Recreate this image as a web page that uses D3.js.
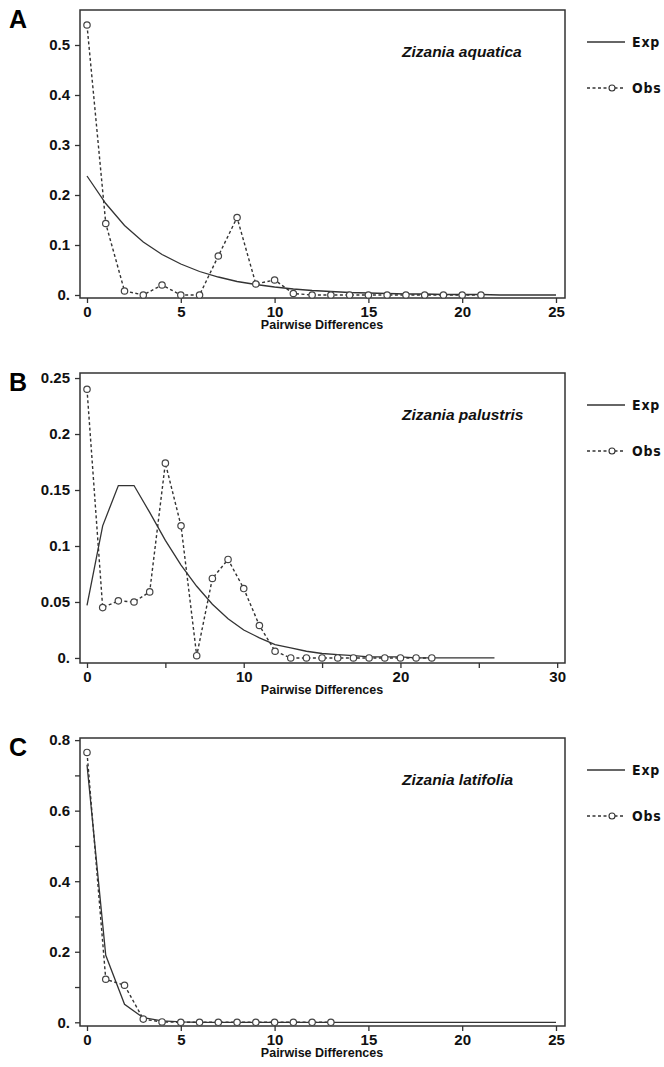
<!DOCTYPE html>
<html>
<head>
<meta charset="utf-8">
<script src="https://cdn.jsdelivr.net/npm/d3@7"></script>
<style>
  body { margin: 0; background: #fff; }
  svg { display: block; font-family: Arial, "Liberation Sans", sans-serif; }
</style>
</head>
<body>
<svg id="chart" width="664" height="1067"></svg>
<script>
// pairwise differences (x) for each panel
var xObsA = d3.range(0, 22);
var obsA = [0.54, 0.143, 0.008, 0.0, 0.02, 0.0, 0.0, 0.078, 0.155, 0.022, 0.03, 0.003,
            0, 0, 0, 0, 0, 0, 0, 0, 0, 0];
var xExpA = d3.range(0, 26);
var expA = [0.238, 0.183, 0.139, 0.106, 0.081, 0.062, 0.047, 0.036, 0.027, 0.021, 0.016,
            0.012, 0.009, 0.007, 0.005, 0.004, 0.003, 0.002, 0.002, 0.001, 0.001,
            0.001, 0.0, 0.0, 0.0, 0.0];

var xObsB = d3.range(0, 23);
var obsB = [0.24, 0.045, 0.051, 0.05, 0.059, 0.174, 0.118, 0.002, 0.071, 0.088, 0.062,
            0.029, 0.006, 0, 0, 0, 0, 0, 0, 0, 0, 0, 0];
var xExpB = d3.range(0, 27);
var expB = [0.047, 0.118, 0.154, 0.154, 0.13, 0.105, 0.083, 0.064, 0.048, 0.035, 0.025,
            0.018, 0.012, 0.009, 0.006, 0.004, 0.003, 0.002, 0.001, 0.001, 0.001,
            0.0, 0.0, 0.0, 0.0, 0.0, 0.0];

var xObsC = d3.range(0, 14);
var obsC = [0.765, 0.122, 0.105, 0.009, 0.001, 0, 0, 0, 0, 0, 0, 0, 0, 0];
var xExpC = d3.range(0, 26);
var expC = [0.73, 0.19, 0.051, 0.013, 0.004, 0.001, 0, 0, 0, 0, 0, 0, 0, 0, 0, 0, 0, 0,
            0, 0, 0, 0, 0, 0, 0, 0];

// tick values and labels
var xTicksA = [0, 5, 10, 15, 20, 25];
var xLabelsA = ["0", "5", "10", "15", "20", "25"];
var yTicksA = [0, 0.1, 0.2, 0.3, 0.4, 0.5];
var yLabelsA = ["0.", "0.1", "0.2", "0.3", "0.4", "0.5"];

var xTicksB = [0, 5, 10, 15, 20, 25, 30];
var xLabelsB = ["0", "", "10", "", "20", "", "30"];
var yTicksB = [0, 0.05, 0.1, 0.15, 0.2, 0.25];
var yLabelsB = ["0.", "0.05", "0.1", "0.15", "0.2", "0.25"];

var xTicksC = [0, 5, 10, 15, 20, 25];
var xLabelsC = ["0", "5", "10", "15", "20", "25"];
var yTicksC = [0, 0.1, 0.2, 0.3, 0.4, 0.5, 0.6, 0.7, 0.8];
var yLabelsC = ["0.", "", "0.2", "", "0.4", "", "0.6", "", "0.8"];

var species = ["Zizania aquatica", "Zizania palustris", "Zizania latifolia"];
var panelLetters = ["A", "B", "C"];
var seriesNames = ["Exp", "Obs"];
var xTitle = "Pairwise Differences";

var panels = [
  { letter: panelLetters[0], name: species[0], top: 10, bottom: 298,
    xDom: [-0.373, 25.48], yDom: [-0.006, 0.57],
    xObs: xObsA, obs: obsA, xExp: xExpA, exp: expA,
    xTicks: xTicksA, xLabels: xLabelsA, yTicks: yTicksA, yLabels: yLabelsA },
  { letter: panelLetters[1], name: species[1], top: 373, bottom: 663,
    xDom: [-0.447, 30.5], yDom: [-0.0045, 0.2545],
    xObs: xObsB, obs: obsB, xExp: xExpB, exp: expB,
    xTicks: xTicksB, xLabels: xLabelsB, yTicks: yTicksB, yLabels: yLabelsB },
  { letter: panelLetters[2], name: species[2], top: 738, bottom: 1026,
    xDom: [-0.373, 25.48], yDom: [-0.0105, 0.806],
    xObs: xObsC, obs: obsC, xExp: xExpC, exp: expC,
    xTicks: xTicksC, xLabels: xLabelsC, yTicks: yTicksC, yLabels: yLabelsC }
];

var svg = d3.select("#chart");
var left = 80, right = 565;
var ink = "#333";

panels.forEach(function (p) {
  var x = d3.scaleLinear().domain(p.xDom).range([left, right]);
  var y = d3.scaleLinear().domain(p.yDom).range([p.bottom, p.top]);
  var g = svg.append("g");

  // frame
  g.append("rect")
    .attr("x", left).attr("y", p.top)
    .attr("width", right - left).attr("height", p.bottom - p.top)
    .attr("fill", "none").attr("stroke", ink).attr("stroke-width", 1.5);

  // x axis
  var xAxis = g.append("g")
    .attr("transform", "translate(0," + p.bottom + ")")
    .call(d3.axisBottom(x).tickValues(p.xTicks).tickSize(5).tickPadding(3)
      .tickFormat(function (d, i) { return p.xLabels[i]; }));
  // y axis
  var yAxis = g.append("g")
    .attr("transform", "translate(" + left + ",0)")
    .call(d3.axisLeft(y).tickValues(p.yTicks).tickSize(5).tickPadding(5)
      .tickFormat(function (d, i) { return p.yLabels[i]; }));

  [xAxis, yAxis].forEach(function (a) {
    a.select(".domain").remove();
    a.selectAll("line").attr("stroke", ink).attr("stroke-width", 1.3);
    a.selectAll("text").attr("fill", "#111").attr("font-size", 15)
      .attr("font-weight", "bold");
  });

  // expected
  var line = d3.line().x(function (d) { return x(d[0]); }).y(function (d) { return y(d[1]); });
  g.append("path")
    .datum(d3.zip(p.xExp, p.exp))
    .attr("d", line)
    .attr("fill", "none").attr("stroke", ink).attr("stroke-width", 1.3);

  // observed
  var obsPts = d3.zip(p.xObs, p.obs);
  g.append("path")
    .datum(obsPts)
    .attr("d", line)
    .attr("fill", "none").attr("stroke", ink).attr("stroke-width", 1.4)
    .attr("stroke-dasharray", "3,2.5");
  g.selectAll(".pt").data(obsPts).enter().append("circle")
    .attr("cx", function (d) { return x(d[0]); })
    .attr("cy", function (d) { return y(d[1]); })
    .attr("r", 3.2)
    .attr("fill", "#fff").attr("stroke", "#444").attr("stroke-width", 1.2);

  // x title
  g.append("text")
    .attr("x", 322).attr("y", p.bottom + 31)
    .attr("text-anchor", "middle")
    .attr("font-size", 12.5).attr("font-weight", "bold").attr("fill", "#111")
    .text(xTitle);

  // panel letter
  g.append("text")
    .attr("x", 9).attr("y", p.top + 18)
    .attr("font-size", 25).attr("font-weight", "bold").attr("fill", "#000")
    .text(p.letter);

  // species name
  g.append("text")
    .attr("x", 402).attr("y", p.top + 47)
    .attr("font-size", 15.5).attr("font-weight", "bold").attr("font-style", "italic")
    .attr("fill", "#111")
    .text(p.name);

  // legend
  var lg = g.append("g").attr("transform", "translate(587," + (p.top + 32) + ")");
  lg.append("line").attr("x1", 0).attr("x2", 38).attr("y1", 0).attr("y2", 0)
    .attr("stroke", ink).attr("stroke-width", 1.3);
  lg.append("line").attr("x1", 0).attr("x2", 38).attr("y1", 46).attr("y2", 46)
    .attr("stroke", ink).attr("stroke-width", 1.3).attr("stroke-dasharray", "3,2.5");
  lg.append("circle").attr("cx", 25).attr("cy", 46).attr("r", 3)
    .attr("fill", "#fff").attr("stroke", ink).attr("stroke-width", 1.1);
  lg.selectAll(".lt").data(seriesNames).enter().append("text")
    .attr("x", 45).attr("y", function (d, i) { return i * 46 + 5; })
    .attr("font-family", "'DejaVu Sans Condensed', 'Liberation Sans Narrow', sans-serif")
    .attr("font-size", 14).attr("font-weight", "bold").attr("letter-spacing", 0.8)
    .attr("fill", "#111")
    .text(function (d) { return d; });
});
</script>
</body>
</html>
